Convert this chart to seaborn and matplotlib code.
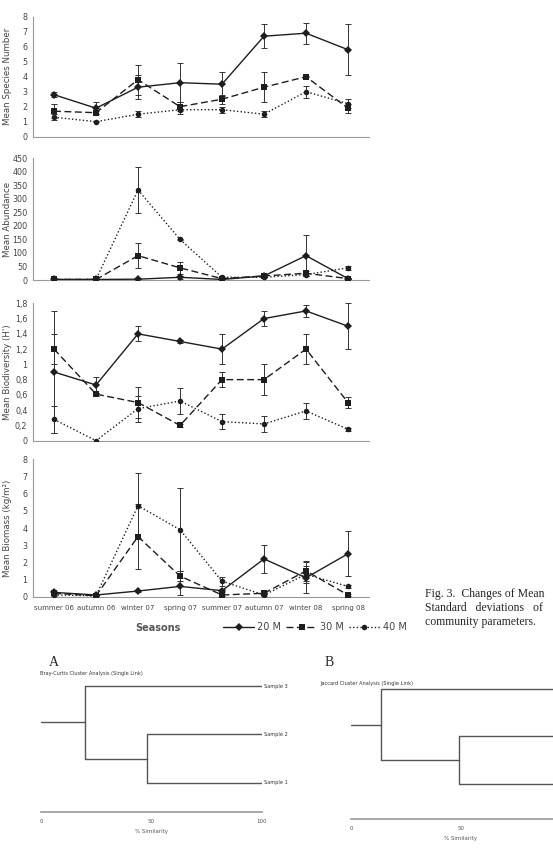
import numpy as np
import pandas as pd
import matplotlib
matplotlib.use("Agg")
import matplotlib.pyplot as plt
import seaborn as sns

# --- data ---
seasons = ["summer 06", "autumn 06", "winter 07", "spring 07",
           "summer 07", "autumn 07", "winter 08", "spring 08"]
depths = ["20 M", "30 M", "40 M"]

species_20 = [2.8, 1.9, 3.3, 3.6, 3.5, 6.7, 6.9, 5.8]
species_20_sd = [0.15, 0.4, 0.8, 1.3, 0.8, 0.8, 0.7, 1.7]
species_30 = [1.7, 1.6, 3.8, 2.0, 2.5, 3.3, 4.0, 1.9]
species_30_sd = [0.45, 0.1, 1.0, 0.3, 0.3, 1.0, 0.05, 0.3]
species_40 = [1.3, 1.0, 1.5, 1.8, 1.8, 1.5, 3.0, 2.2]
species_40_sd = [0.2, 0.05, 0.2, 0.3, 0.2, 0.2, 0.4, 0.3]

abund_20 = [2, 2, 3, 10, 2, 15, 90, 5]
abund_20_sd = [1, 1, 1, 5, 1, 5, 75, 2]
abund_30 = [2, 2, 90, 45, 5, 15, 25, 5]
abund_30_sd = [1, 1, 45, 22, 2, 3, 10, 2]
abund_40 = [2, 2, 333, 150, 10, 10, 20, 45]
abund_40_sd = [1, 1, 84, 3, 2, 2, 5, 8]

bio_20 = [0.9, 0.73, 1.4, 1.3, 1.2, 1.6, 1.7, 1.5]
bio_20_sd = [0.8, 0.1, 0.1, 0.02, 0.2, 0.1, 0.08, 0.3]
bio_30 = [1.2, 0.61, 0.5, 0.2, 0.8, 0.8, 1.2, 0.5]
bio_30_sd = [0.2, 0.02, 0.2, 0.02, 0.1, 0.2, 0.2, 0.07]
bio_40 = [0.28, 0.0, 0.42, 0.52, 0.25, 0.22, 0.39, 0.15]
bio_40_sd = [0.18, 0.0, 0.17, 0.17, 0.1, 0.1, 0.1, 0.02]

mass_20 = [0.25, 0.1, 0.33, 0.6, 0.35, 2.2, 1.1, 2.5]
mass_20_sd = [0.05, 0.02, 0.05, 0.5, 0.1, 0.8, 0.9, 1.3]
mass_30 = [0.2, 0.05, 3.5, 1.2, 0.1, 0.2, 1.5, 0.1]
mass_30_sd = [0.05, 0.02, 1.9, 0.3, 0.05, 0.05, 0.6, 0.05]
mass_40 = [0.1, 0.05, 5.3, 3.9, 0.9, 0.1, 1.3, 0.6]
mass_40_sd = [0.05, 0.02, 1.9, 2.4, 0.25, 0.05, 0.5, 0.1]

# dendrograms: leaves top->bottom, merge similarities (%) inner then root
bc_leaves = ["Sample 3", "Sample 2", "Sample 1"]
bc_merge = [48, 20]
jac_merge = [49, 13.5]

GRAY = "#444444"
SPINE = "#9a9a9a"

sns.set_style("white")
plt.rcParams['font.family'] = ['DejaVu Sans']

fig = plt.figure(figsize=(5.53, 8.6), dpi=100)
W, H = 553, 860


def rect(x0, x1, ytop, ybot):
    return [x0 / W, 1 - ybot / H, (x1 - x0) / W, (ybot - ytop) / H]


def long_frame(means):
    rows = []
    for d, vals in zip(depths, means):
        for i, v in enumerate(vals):
            rows.append((i, d, v))
    return pd.DataFrame(rows, columns=["pos", "depth", "value"])


def draw_panel(r, means, sds, ylabel, ylim, ticks, ticklabels=None, bottom=False):
    ax = fig.add_axes(r)
    df = long_frame(means)
    sns.lineplot(data=df, x="pos", y="value", hue="depth", style="depth",
                 palette=["#1e1e1e"] * 3,
                 markers={"20 M": "D", "30 M": "s", "40 M": "o"},
                 dashes={"20 M": "", "30 M": (5, 2.5), "40 M": (1, 1.6)},
                 markersize=4, linewidth=1.0, markeredgewidth=0,
                 ax=ax, legend=bottom, zorder=3)
    for vals, err in zip(means, sds):
        ax.errorbar(range(len(seasons)), vals, yerr=err, fmt="none",
                    ecolor="#333333", elinewidth=0.7, capsize=2.3,
                    capthick=0.7, zorder=2)
    ax.set_xlim(-0.5, len(seasons) - 0.5)
    ax.set_ylim(*ylim)
    ax.set_yticks(ticks)
    if ticklabels is not None:
        ax.set_yticklabels(ticklabels)
    ax.set_xticks(range(len(seasons)))
    ax.set_xticks(np.arange(-0.5, len(seasons)), minor=True)
    ax.tick_params(axis="x", which="major", length=0, pad=6,
                   labelsize=5.0, labelcolor=GRAY)
    ax.tick_params(axis="x", which="minor", length=3, width=0.6, color=SPINE,
                   direction="out")
    ax.tick_params(axis="y", length=2, width=0.6, color=SPINE, pad=2,
                   labelsize=5.8, labelcolor=GRAY)
    if bottom:
        ax.set_xticklabels(seasons)
    else:
        ax.set_xticklabels([])
    ax.set_xlabel("")
    ax.set_ylabel(ylabel, fontsize=6.2, color=GRAY)
    ax.yaxis.set_label_coords(-0.062, 0.5)
    sns.despine(ax=ax)
    for s in ("left", "bottom"):
        ax.spines[s].set_color(SPINE)
        ax.spines[s].set_linewidth(0.8)
    return ax


draw_panel(rect(33, 369, 16.7, 136.7),
           [species_20, species_30, species_40],
           [species_20_sd, species_30_sd, species_40_sd],
           "Mean Species Number", (0, 8), np.arange(0, 9, 1))
draw_panel(rect(33, 369, 158.3, 280),
           [abund_20, abund_30, abund_40],
           [abund_20_sd, abund_30_sd, abund_40_sd],
           "Mean Abundance", (0, 450), np.arange(0, 451, 50))
bio_ticks = np.round(np.arange(0, 1.81, 0.2), 1)
draw_panel(rect(33, 369, 303.3, 440.7),
           [bio_20, bio_30, bio_40],
           [bio_20_sd, bio_30_sd, bio_40_sd],
           "Mean Biodiversity (H')", (0, 1.8), bio_ticks,
           ticklabels=[("%g" % t).replace(".", ",") for t in bio_ticks])
ax4 = draw_panel(rect(33, 369, 459.3, 596.7),
                 [mass_20, mass_30, mass_40],
                 [mass_20_sd, mass_30_sd, mass_40_sd],
                 "Mean Biomass (kg/m²)", (0, 8), np.arange(0, 9, 1),
                 bottom=True)

handles, labels = ax4.get_legend_handles_labels()
ax4.get_legend().remove()
leg = fig.legend(handles, labels, loc="center", bbox_to_anchor=(315 / W, 1 - 627 / H),
                 ncol=3, frameon=False, fontsize=7, handlelength=3.2,
                 columnspacing=0.5, handletextpad=0.3)
for t in leg.get_texts():
    t.set_color(GRAY)

fig.text(158 / W, 1 - 628 / H, "Seasons", ha="center", va="center",
         fontsize=7, color="#555555", fontweight="bold")

cap_font = dict(family="Liberation Serif", fontsize=8.5, va="center", ha="left")
fig.text(425 / W, 1 - 594 / H, "Fig. 3.  Changes of Mean", **cap_font)
fig.text(425 / W, 1 - 608 / H, "Standard   deviations   of", **cap_font)
fig.text(425 / W, 1 - 622 / H, "community parameters.", **cap_font)


def dendrogram(r, leaves, merge, ylim, ticks, title, letter, letter_xy, title_xy):
    ax = fig.add_axes(r)
    inner, root = merge
    col = "#555555"
    # inner cluster (leaves 1 & 2)
    ax.plot([inner, inner], [1, 2], color=col, lw=1)
    ax.plot([inner, 100], [1, 1], color=col, lw=1)
    ax.plot([inner, 100], [2, 2], color=col, lw=1)
    # root cluster
    ax.plot([root, root], [0, 1.5], color=col, lw=1)
    ax.plot([root, 100], [0, 0], color=col, lw=1)
    ax.plot([root, inner], [1.5, 1.5], color=col, lw=1)
    ax.plot([0, root], [0.75, 0.75], color=col, lw=1)
    for i, name in enumerate(leaves):
        ax.text(100.8, i, name, fontsize=3.6, va="center", ha="left", color="#333333")
    ax.set_xlim(0, 100)
    ax.set_ylim(*ylim)
    ax.set_xticks(ticks)
    ax.set_yticks([])
    ax.tick_params(axis="x", length=2, width=0.5, color=SPINE, labelsize=4,
                   labelcolor="#555555", pad=3)
    ax.set_xlabel("% Similarity", fontsize=4, color="#555555", labelpad=5)
    ax.xaxis.set_label_coords(0.5 if len(ticks) == 3 else 0.5, -0.12)
    sns.despine(ax=ax, left=True)
    ax.spines["bottom"].set_color(SPINE)
    ax.spines["bottom"].set_linewidth(1.2)
    ax.patch.set_alpha(0)
    fig.text(letter_xy[0] / W, 1 - letter_xy[1] / H, letter,
             family="Liberation Serif", fontsize=10, va="center", ha="center")
    fig.text(title_xy[0] / W, 1 - title_xy[1] / H, title, fontsize=3.6,
             va="center", ha="left", color="#333333")


dendrogram(rect(41, 262, 671.5, 812), bc_leaves, bc_merge, (2.6, -0.3), [0, 50, 100],
           "Bray-Curtis Cluster Analysis (Single Link)", "A", (54, 663), (40, 674))
# leaf labels and the 100 tick of B fall outside the page in the reference
dendrogram(rect(351, 571, 674.75, 819), [], jac_merge, (2.737, -0.3), [0, 50],
           "Jaccard Cluster Analysis (Single Link)", "B", (329, 663), (320, 683))

fig.savefig("out.png", dpi=100)
